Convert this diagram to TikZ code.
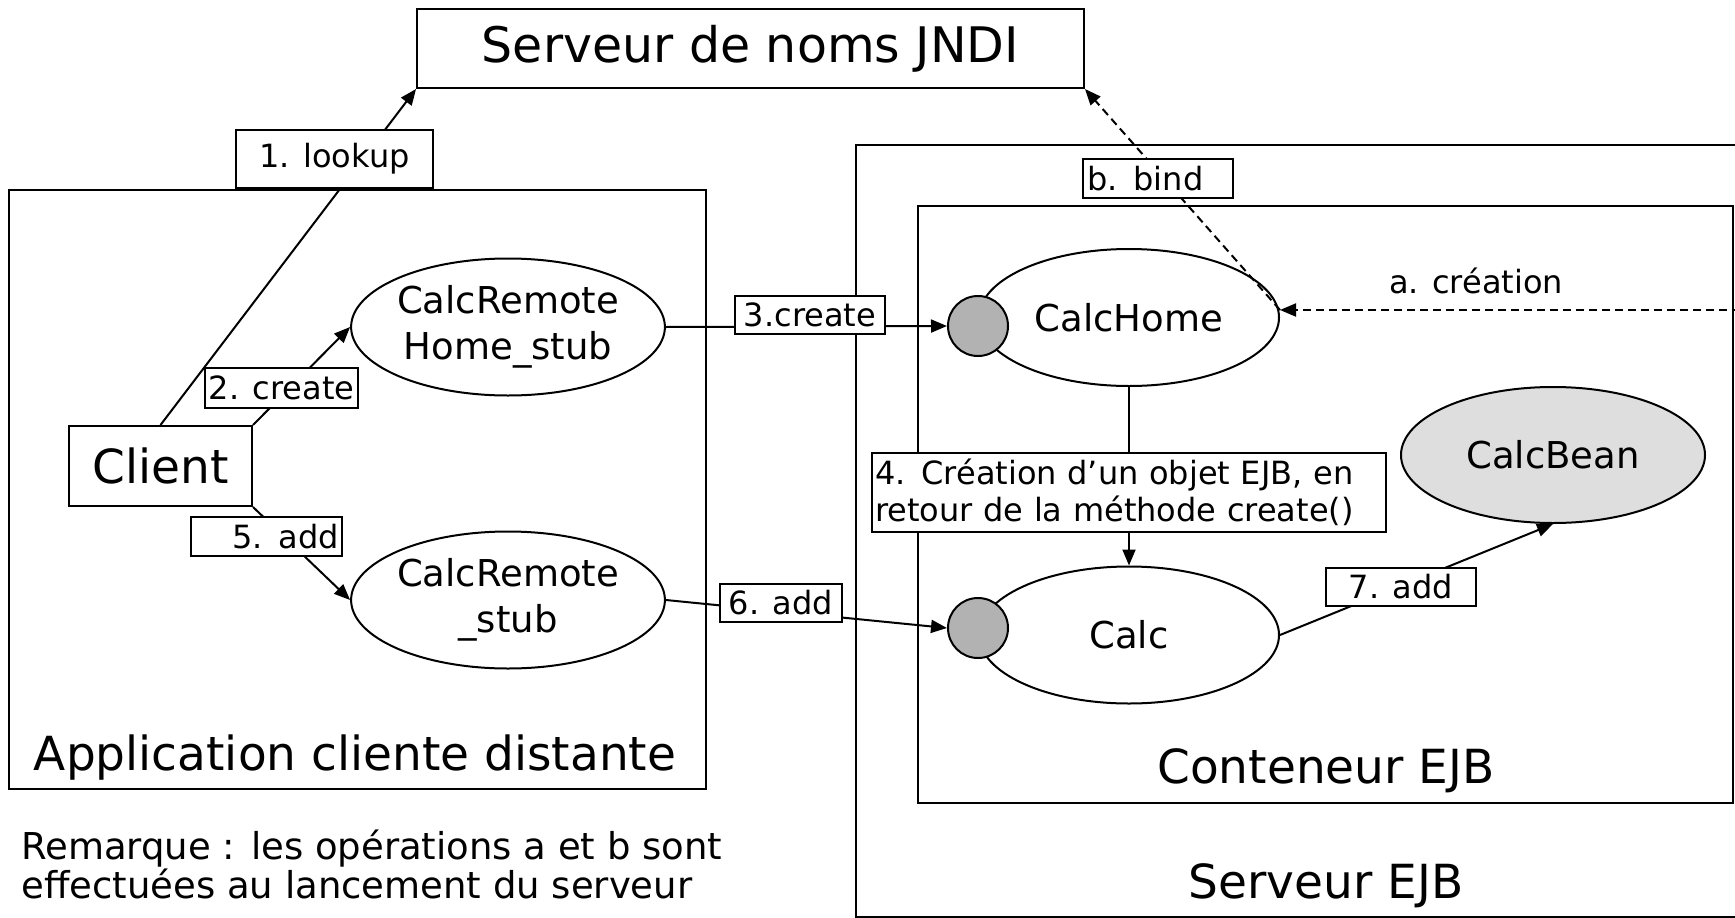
\documentclass[tikz,border=0pt]{standalone}
\usepackage{fontspec}
\setmainfont{DejaVu Sans}
\usepackage{tikz}
\usetikzlibrary{shapes.geometric, arrows.meta}

\definecolor{portgray}{gray}{0.70}
\definecolor{beangray}{gray}{0.87}

\begin{document}
\begin{tikzpicture}[
            x=1pt, y=-1pt, line width=2pt,
            big/.style={font=\fontsize{47}{56}\selectfont}, % frame titles
            mid/.style={font=\fontsize{37}{46}\selectfont}, % objects and note
            small/.style={font=\fontsize{32}{37}\selectfont}, % message labels
            frame/.style={draw, rectangle, inner sep=0pt},
            obj/.style={draw, ellipse, inner sep=0pt, minimum width=302pt, minimum height=137pt, mid, align=center},
            port/.style={draw, circle, fill=portgray, inner sep=0pt, minimum size=60pt},
            lbl/.style={draw, fill=white, inner sep=0pt, small},
            arr/.style={-{Triangle[length=16pt,width=13pt]}},
            async/.style={dash pattern=on 8pt off 5pt}
            ]
        \useasboundingbox (0,0) rectangle (1735,918);

        % naming server
        \node[frame, minimum width=667pt, minimum height=79pt, font=\fontsize{49}{58}\selectfont] (jndi) at (750.5,48.5) {Serveur de noms JNDI};

        % client side
        \node[frame, minimum width=697pt, minimum height=599pt] (app) at (357.5,489.5) {};
        \node[big, anchor=base] (apptitle) at (355,770) {Application cliente distante};
        \node[frame, big, minimum width=183pt, minimum height=80pt] (client) at (160.5,466) {Client};
        \node[obj] (rhstub) at (508,327) {CalcRemote\\Home\_stub};
        \node[obj] (rstub) at (508,600) {CalcRemote\\\_stub};

        % server side
        \node[frame, minimum width=884pt, minimum height=772pt] (srv) at (1298,531) {};
        \node[big, anchor=base] (srvtitle) at (1326,898) {Serveur EJB};
        \node[frame, minimum width=815pt, minimum height=597pt] (ctn) at (1325.5,504.5) {};
        \node[big, anchor=base] (ctntitle) at (1326,783) {Conteneur EJB};
        \node[obj, minimum width=300pt] (home) at (1129,317.5) {CalcHome};
        \node[obj, minimum width=300pt] (calc) at (1129,635) {Calc};
        \node[obj, fill=beangray, minimum width=304pt, minimum height=136pt] (bean) at (1553,455) {CalcBean};
        \node[port] (homeport) at (978,326) {};
        \node[port] (calcport) at (978,628) {};
        \node[lbl, minimum width=514pt, minimum height=79pt, text width=508pt, align=left] (note4) at (1129,492.5) {4. Création d’un objet EJB, en\\retour de la méthode create()};
        \coordinate (astart) at (1740,310);

        % messages
        \draw[arr] (client.north) -- (jndi.south west);
        \draw[arr] (client.north east) -- (rhstub.west);
        \draw[arr] (client.south east) -- (rstub.west);
        \draw[arr] (rhstub.east) -- (homeport.west);
        \draw[arr] (rstub.east) -- (calcport.west);
        \draw[async, arr] (astart) -- (home.east |- astart);
        \draw[async, arr] (home.east |- astart) -- (jndi.south east);
        \draw (home.south) -- (note4.north);
        \draw[arr] (note4.south) -- (calc.north);
        \draw[arr] (calc.east) -- (bean.south);

        % message labels
        \node[lbl, minimum width=197pt, minimum height=58pt] (lookup) at (334.5,159) {1. lookup};
        \node[lbl, minimum width=153pt, minimum height=40pt] (create2) at (281.5,388) {2. create};
        \node[lbl, minimum width=150pt, minimum height=38pt] (create3) at (810,315) {3.create};
        \node[lbl, minimum width=151pt, minimum height=39pt, text width=145pt, align=right] (add5) at (266.5,536.5) {5. add};
        \node[lbl, minimum width=122pt, minimum height=38pt] (add6) at (781,603) {6. add};
        \node[lbl, minimum width=150pt, minimum height=38pt] (add7) at (1401,587) {7. add};
        \node[lbl, minimum width=150pt, minimum height=39pt, text width=142pt, align=left] (bind) at (1158,178.5) {b. bind};
        \node[small, anchor=base] (creation) at (1476,293) {a. création};

        % remark (base is the last line)
        \node[mid, anchor=base west, align=left, font=\fontsize{37}{37}\selectfont] (remark) at (17,898) {Remarque : les opérations a et b sont\\effectuées au lancement du serveur};

    \end{tikzpicture}
\end{document}
